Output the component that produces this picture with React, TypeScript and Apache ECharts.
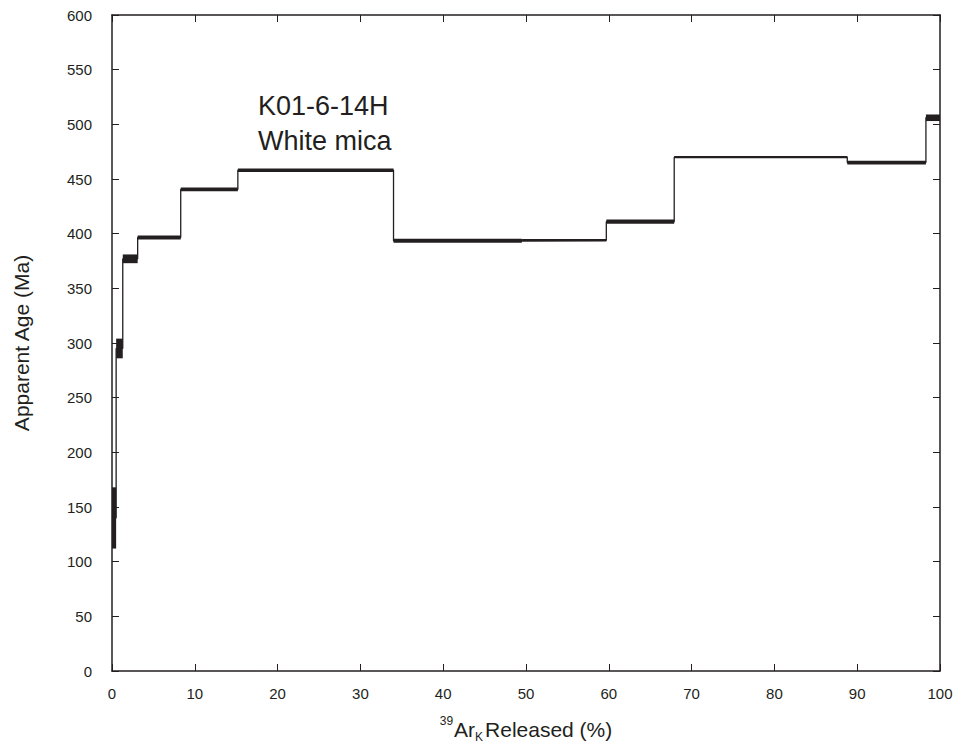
import React, { useEffect, useRef } from "react";
import * as echarts from "echarts";

// Step boundaries (cumulative % 39ArK released)
const stepStart = [0, 0.5, 1.3, 3.1, 8.3, 15.2, 34.0, 49.5, 59.7, 67.9, 88.8, 98.3];
const stepEnd = [0.5, 1.3, 3.1, 8.3, 15.2, 34.0, 49.5, 59.7, 67.9, 88.8, 98.3, 100];
// Apparent ages (Ma) and half-height of error boxes
const ages = [140, 295, 377, 396.5, 440.5, 458, 393.5, 394, 411, 470, 465, 506];
const errs = [28, 9, 4, 1.8, 1.7, 1.7, 1.8, 1.1, 2, 1.1, 1.7, 3];

const yTicks = [0, 50, 100, 150, 200, 250, 300, 350, 400, 450, 500, 550, 600];
const xTicks = [0, 10, 20, 30, 40, 50, 60, 70, 80, 90, 100];

const sampleLabel = ["K01-6-14H", "White mica"];

const INK = "#231f20";
const FONT = "Liberation Sans, Arial, sans-serif";

export default function App() {
  const ref = useRef<HTMLDivElement>(null);

  useEffect(() => {
    if (!ref.current) return;
    const chart = echarts.init(ref.current, null, { renderer: "svg" });

    const boxes = stepStart.map((s, i) => [s, stepEnd[i], ages[i], errs[i]]);
    const stepLine: number[][] = [];
    stepStart.forEach((s, i) => {
      stepLine.push([s, ages[i]]);
      stepLine.push([stepEnd[i], ages[i]]);
    });

    const xBase = {
      type: "value" as const,
      min: xTicks[0],
      max: xTicks[xTicks.length - 1],
      interval: 10,
      splitLine: { show: false },
      axisLine: { show: true, onZero: false, lineStyle: { color: INK, width: 1.5 } },
      axisTick: { show: true, inside: true, length: 7, lineStyle: { color: INK, width: 1 } },
    };
    const yBase = {
      type: "value" as const,
      min: yTicks[0],
      max: yTicks[yTicks.length - 1],
      interval: 50,
      splitLine: { show: false },
      axisLine: { show: true, onZero: false, lineStyle: { color: INK, width: 1.5 } },
      axisTick: { show: true, inside: true, length: 7, lineStyle: { color: INK, width: 1 } },
    };

    chart.setOption({
      animation: false,
      backgroundColor: "#ffffff",
      grid: { left: 112, right: 21, top: 15, bottom: 79, containLabel: false },
      xAxis: [
        {
          ...xBase,
          position: "bottom",
          axisLabel: { show: true, margin: 15, color: INK, fontSize: 15, fontFamily: FONT },
          name: "{sup|39}Ar{sub|K}Released (%)",
          nameLocation: "middle",
          nameGap: 44,
          nameTextStyle: {
            color: INK,
            fontSize: 21,
            fontFamily: FONT,
            lineHeight: 28,
            rich: {
              sup: { fontSize: 12, verticalAlign: "top", lineHeight: 12, color: INK, fontFamily: FONT, padding: [0, 1, 0, 0] },
              sub: { fontSize: 12, verticalAlign: "bottom", lineHeight: 12, color: INK, fontFamily: FONT, padding: [0, 2, 0, 0] },
            },
          },
        },
        { ...xBase, position: "top", axisLabel: { show: false } },
      ],
      yAxis: [
        {
          ...yBase,
          position: "left",
          axisLabel: { show: true, margin: 20, color: INK, fontSize: 15, fontFamily: FONT },
          name: "Apparent Age (Ma)",
          nameLocation: "middle",
          nameGap: 80,
          nameTextStyle: { color: INK, fontSize: 21, fontFamily: FONT },
        },
        { ...yBase, position: "right", axisLabel: { show: false } },
      ],
      graphic: [
        {
          type: "text",
          left: 258,
          top: 88,
          style: {
            text: sampleLabel.join("\n"),
            fill: INK,
            fontSize: 27,
            lineHeight: 35,
            fontFamily: FONT,
          },
        },
      ],
      series: [
        {
          type: "line",
          xAxisIndex: 0,
          yAxisIndex: 0,
          data: stepLine,
          symbol: "none",
          lineStyle: { color: INK, width: 1.3 },
          z: 2,
        },
        {
          type: "custom",
          xAxisIndex: 0,
          yAxisIndex: 0,
          data: boxes,
          encode: { x: [0, 1], y: 2 },
          renderItem: (params: any, api: any) => {
            const s = api.value(0);
            const e = api.value(1);
            const a = api.value(2);
            const er = api.value(3);
            const p1 = api.coord([s, a + er]);
            const p2 = api.coord([e, a - er]);
            const h = Math.max(p2[1] - p1[1], 1.5);
            return {
              type: "rect",
              shape: { x: p1[0], y: p1[1], width: p2[0] - p1[0], height: h },
              style: { fill: INK },
            };
          },
          z: 3,
        },
      ],
    });

    return () => chart.dispose();
  }, []);

  return (
    <div
      ref={ref}
      style={{ position: "absolute", left: 0, top: 0, width: 961, height: 750 }}
    />
  );
}
